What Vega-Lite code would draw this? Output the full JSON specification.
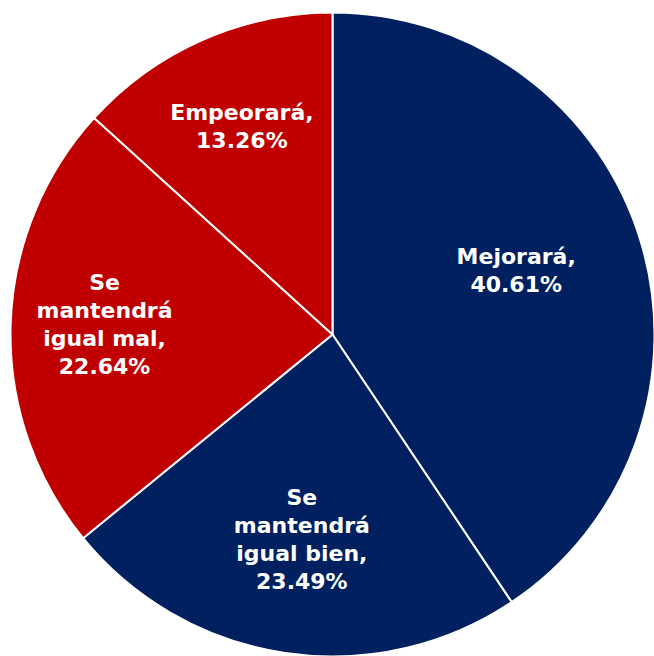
{
  "$schema": "https://vega.github.io/schema/vega-lite/v6.json",
  "autosize": "none",
  "width": 645,
  "height": 645,
  "padding": {"left": 10, "top": 12, "right": 0, "bottom": 0},
  "background": "white",
  "view": {"stroke": null},
  "data": {
    "values": [
      {"idx": 1, "cat": "Mejorará", "value": 40.61, "label": "Mejorará,\n40.61%"},
      {"idx": 2, "cat": "Se mantendrá igual bien", "value": 23.49, "label": "Se\nmantendrá\nigual bien,\n23.49%"},
      {"idx": 3, "cat": "Se mantendrá igual mal", "value": 22.64, "label": "Se\nmantendrá\nigual mal,\n22.64%"},
      {"idx": 4, "cat": "Empeorará", "value": 13.26, "label": "Empeorará,\n13.26%"}
    ]
  },
  "encoding": {
    "theta": {"field": "value", "type": "quantitative", "stack": true},
    "order": {"field": "idx", "type": "ordinal", "sort": "ascending"}
  },
  "layer": [
    {
      "mark": {"type": "arc", "outerRadius": 322, "stroke": "white", "strokeWidth": 2},
      "encoding": {
        "color": {
          "field": "cat",
          "type": "nominal",
          "scale": {
            "domain": ["Mejorará", "Se mantendrá igual bien", "Se mantendrá igual mal", "Empeorará"],
            "range": ["#002060", "#002060", "#C00000", "#C00000"]
          },
          "legend": null
        }
      }
    },
    {
      "mark": {"type": "text", "radius": 192, "dy": -22, "font": "DejaVu Sans", "fontWeight": "bold", "fontSize": 22, "lineHeight": 28, "lineBreak": "\n", "color": "white", "align": "center", "baseline": "middle"},
      "encoding": {"text": {"condition": {"test": "datum.idx == 1", "field": "label"}, "value": ""}}
    },
    {
      "mark": {"type": "text", "radius": 208, "dy": -42, "font": "DejaVu Sans", "fontWeight": "bold", "fontSize": 22, "lineHeight": 28, "lineBreak": "\n", "color": "white", "align": "center", "baseline": "middle"},
      "encoding": {"text": {"condition": {"test": "datum.idx == 2", "field": "label"}, "value": ""}}
    },
    {
      "mark": {"type": "text", "radius": 228, "dy": -45, "font": "DejaVu Sans", "fontWeight": "bold", "fontSize": 22, "lineHeight": 28, "lineBreak": "\n", "color": "white", "align": "center", "baseline": "middle"},
      "encoding": {"text": {"condition": {"test": "datum.idx == 3", "field": "label"}, "value": ""}}
    },
    {
      "mark": {"type": "text", "radius": 224, "dy": -17, "font": "DejaVu Sans", "fontWeight": "bold", "fontSize": 22, "lineHeight": 28, "lineBreak": "\n", "color": "white", "align": "center", "baseline": "middle"},
      "encoding": {"text": {"condition": {"test": "datum.idx == 4", "field": "label"}, "value": ""}}
    }
  ]
}
